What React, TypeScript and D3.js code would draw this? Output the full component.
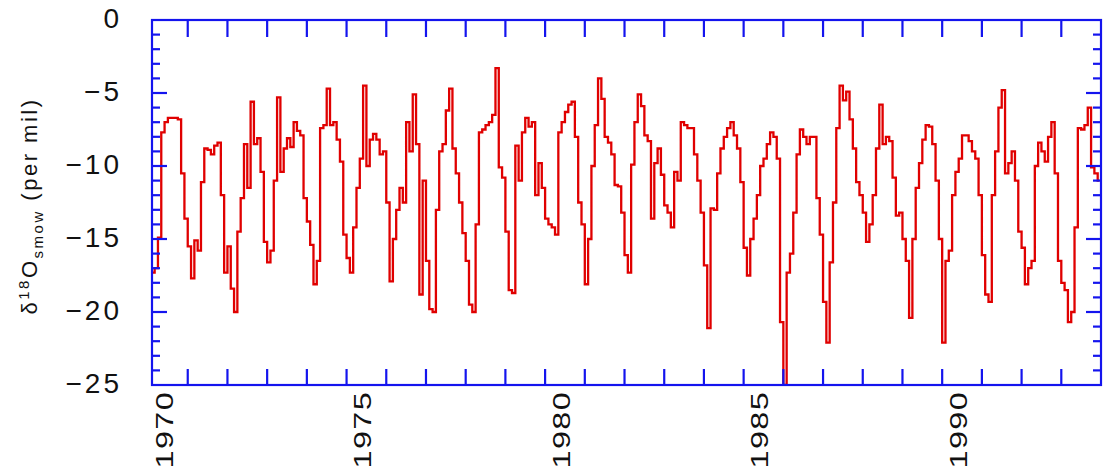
import { useEffect, useRef } from 'react';
import * as d3 from 'd3';

// monthly delta-18O values (per mil), January of each decade onward
const startYear = 1970;
const values1970s = [
  -17.3, -17.3, -17.0, -14.9, -7.7, -7.0, -6.7, -6.7, -6.7, -6.8, -10.5, -13.6,
  -15.5, -17.7, -15.1, -15.8, -11.1, -8.8, -8.9, -9.2, -8.6, -8.4, -12.0, -17.3,
  -15.5, -18.4, -20.0, -14.5, -12.2, -8.5, -11.5, -5.6, -8.5, -8.1, -10.4, -15.2,
  -16.6, -15.8, -11.0, -5.3, -10.4, -8.8, -8.1, -8.7, -7.0, -7.6, -7.9, -12.2,
  -13.8, -15.4, -18.1, -16.5, -7.4, -7.2, -4.7, -7.2, -7.0, -8.2, -9.7, -14.7,
  -16.3, -17.3, -14.2, -11.5, -9.5, -4.5, -10.0, -8.2, -7.8, -8.2, -9.2, -9.0,
  -12.5, -17.9, -15.0, -13.0, -11.5, -12.5, -7.0, -9.0, -5.1, -8.5, -18.8, -11.0,
  -16.5, -19.8, -20.0, -13.0, -9.0, -8.5, -6.2, -4.7, -8.8, -10.5, -12.5, -14.6,
  -16.5, -19.5, -20.0, -14.0, -7.7, -7.5, -7.2, -7.0, -6.5, -3.3, -10.1, -10.8,
  -14.5, -18.5, -18.7, -8.6, -11.0, -7.7, -6.7, -7.3, -7.0, -12.0, -9.8, -11.5,
];
const values1980s = [
  -13.6, -14.0, -14.2, -14.7, -7.7, -7.0, -6.3, -5.8, -5.6, -8.0, -12.5, -14.0,
  -18.1, -15.0, -10.0, -7.2, -4.0, -5.4, -8.0, -8.4, -9.2, -11.3, -11.4, -13.2,
  -16.1, -17.3, -9.9, -7.0, -5.1, -5.9, -7.9, -8.3, -13.6, -9.8, -8.8, -10.6,
  -12.7, -13.2, -14.2, -10.4, -11.0, -7.0, -7.2, -7.4, -7.4, -9.2, -11.0, -13.2,
  -16.8, -21.1, -12.9, -13.0, -10.5, -8.8, -8.0, -7.4, -7.0, -7.9, -8.8, -11.1,
  -15.6, -17.5, -15.0, -13.6, -12.0, -10.0, -9.5, -8.5, -7.7, -8.0, -9.5, -20.7,
  -25.0, -17.3, -16.0, -13.2, -9.2, -7.5, -8.0, -8.5, -8.0, -8.0, -12.2, -14.7,
  -19.3, -22.1, -16.6, -12.5, -7.4, -4.5, -5.5, -4.9, -6.8, -8.8, -11.1, -12.0,
  -13.2, -15.2, -14.0, -12.0, -8.8, -5.8, -8.5, -8.0, -8.3, -10.8, -13.4, -13.2,
  -15.0, -16.5, -20.4, -15.0, -11.5, -9.8, -8.2, -7.2, -7.3, -8.5, -11.0, -15.0,
];
const values1990s = [
  -22.1, -16.5, -15.8, -12.0, -10.4, -9.5, -7.9, -7.9, -8.3, -9.0, -9.5, -12.0,
  -16.1, -18.8, -19.3, -12.0, -9.0, -6.0, -4.8, -10.5, -9.8, -9.0, -11.0, -14.5,
  -15.6, -18.1, -17.0, -16.5, -10.0, -8.4, -9.0, -9.7, -8.0, -7.0, -10.5, -16.5,
  -18.0, -18.5, -20.7, -20.0, -14.2, -7.4, -7.5, -7.2, -6.0, -10.1, -10.5, -11.0,
];

const yTicks = [0, -5, -10, -15, -20, -25];
const xLabelYears = [1970, 1975, 1980, 1985, 1990];

const App = () => {
  const ref = useRef(null);

  useEffect(() => {
    const width = 1109;
    const height = 473;
    const left = 152;
    const right = 1101;
    const top = 20;
    const bottom = 385;
    const blue = '#1414ee';

    const svg = d3.select(ref.current);
    svg.selectAll('*').remove();

    const x = d3.scaleLinear().domain([1970.1, 1994]).range([left, right]);
    const y = d3.scaleLinear().domain([-25, 0]).range([bottom, top]);

    const monthly = [...values1970s, ...values1980s, ...values1990s].map((v, i) => ({
      t: startYear + (i + 0.5) / 12,
      v,
    }));

    svg
      .append('clipPath')
      .attr('id', 'plot-clip')
      .append('rect')
      .attr('x', left)
      .attr('y', top)
      .attr('width', right - left)
      .attr('height', bottom - top);

    const line = d3
      .line()
      .x((d) => x(d.t))
      .y((d) => y(d.v))
      .curve(d3.curveStep);

    svg
      .append('path')
      .datum(monthly)
      .attr('clip-path', 'url(#plot-clip)')
      .attr('fill', 'none')
      .attr('stroke', '#e00000')
      .attr('stroke-width', 2.3)
      .attr('d', line);

    const g = svg.append('g').attr('stroke', blue).attr('stroke-width', 2.2);

    // year ticks on top and bottom
    const years = d3.range(1971, 1994);
    years.forEach((yr) => {
      g.append('line').attr('x1', x(yr)).attr('x2', x(yr)).attr('y1', bottom).attr('y2', bottom - 16);
      g.append('line').attr('x1', x(yr)).attr('x2', x(yr)).attr('y1', top).attr('y2', top + 17);
    });

    // minor every 1, major every 5 on both sides
    d3.range(-24, 0).forEach((v) => {
      const len = v % 5 === 0 ? 15 : 8;
      g.append('line').attr('x1', left).attr('x2', left + len).attr('y1', y(v)).attr('y2', y(v));
      g.append('line').attr('x1', right).attr('x2', right - len).attr('y1', y(v)).attr('y2', y(v));
    });

    g.append('rect')
      .attr('x', left)
      .attr('y', top)
      .attr('width', right - left)
      .attr('height', bottom - top)
      .attr('fill', 'none');

    const font = '"Liberation Sans", Arial, sans-serif';

    svg
      .append('g')
      .selectAll('text')
      .data(yTicks)
      .join('text')
      .attr('x', 122)
      .attr('y', (d) => y(d) - 2)
      .attr('dy', '0.36em')
      .attr('text-anchor', 'end')
      .attr('font-family', font)
      .attr('font-size', 28)
      .attr('letter-spacing', 3)
      .attr('fill', '#111')
      .text((d) => (d === 0 ? '0' : '\u2212' + Math.abs(d)));

    svg
      .append('g')
      .selectAll('text')
      .data(xLabelYears)
      .join('text')
      .attr('transform', (d) => `translate(${x(d) + 16},391) rotate(-90) scale(1.35,1)`)
      .attr('dy', '0.36em')
      .attr('text-anchor', 'end')
      .attr('font-family', font)
      .attr('font-size', 24)
      .attr('letter-spacing', 1)
      .attr('fill', '#111')
      .text((d) => d);

    // axis title: delta 18 O smow (per mil)
    const title = svg
      .append('text')
      .attr('transform', 'translate(37,206) rotate(-90)')
      .attr('text-anchor', 'middle')
      .attr('font-family', font)
      .attr('font-size', 22)
      .attr('letter-spacing', 2.5)
      .attr('fill', '#111');
    title.append('tspan').text('δ');
    title.append('tspan').attr('font-size', 15).attr('dy', -8).text('18');
    title.append('tspan').attr('dy', 8).text('O');
    title.append('tspan').attr('font-size', 15).attr('dy', 6).text('smow');
    title.append('tspan').attr('dy', -6).text(' (per mil)');

    svg.attr('width', width).attr('height', height);
  }, []);

  return (
    <svg
      ref={ref}
      width={1109}
      height={473}
      style={{ position: 'absolute', left: 0, top: 0, background: '#fff' }}
    />
  );
};

export default App;
